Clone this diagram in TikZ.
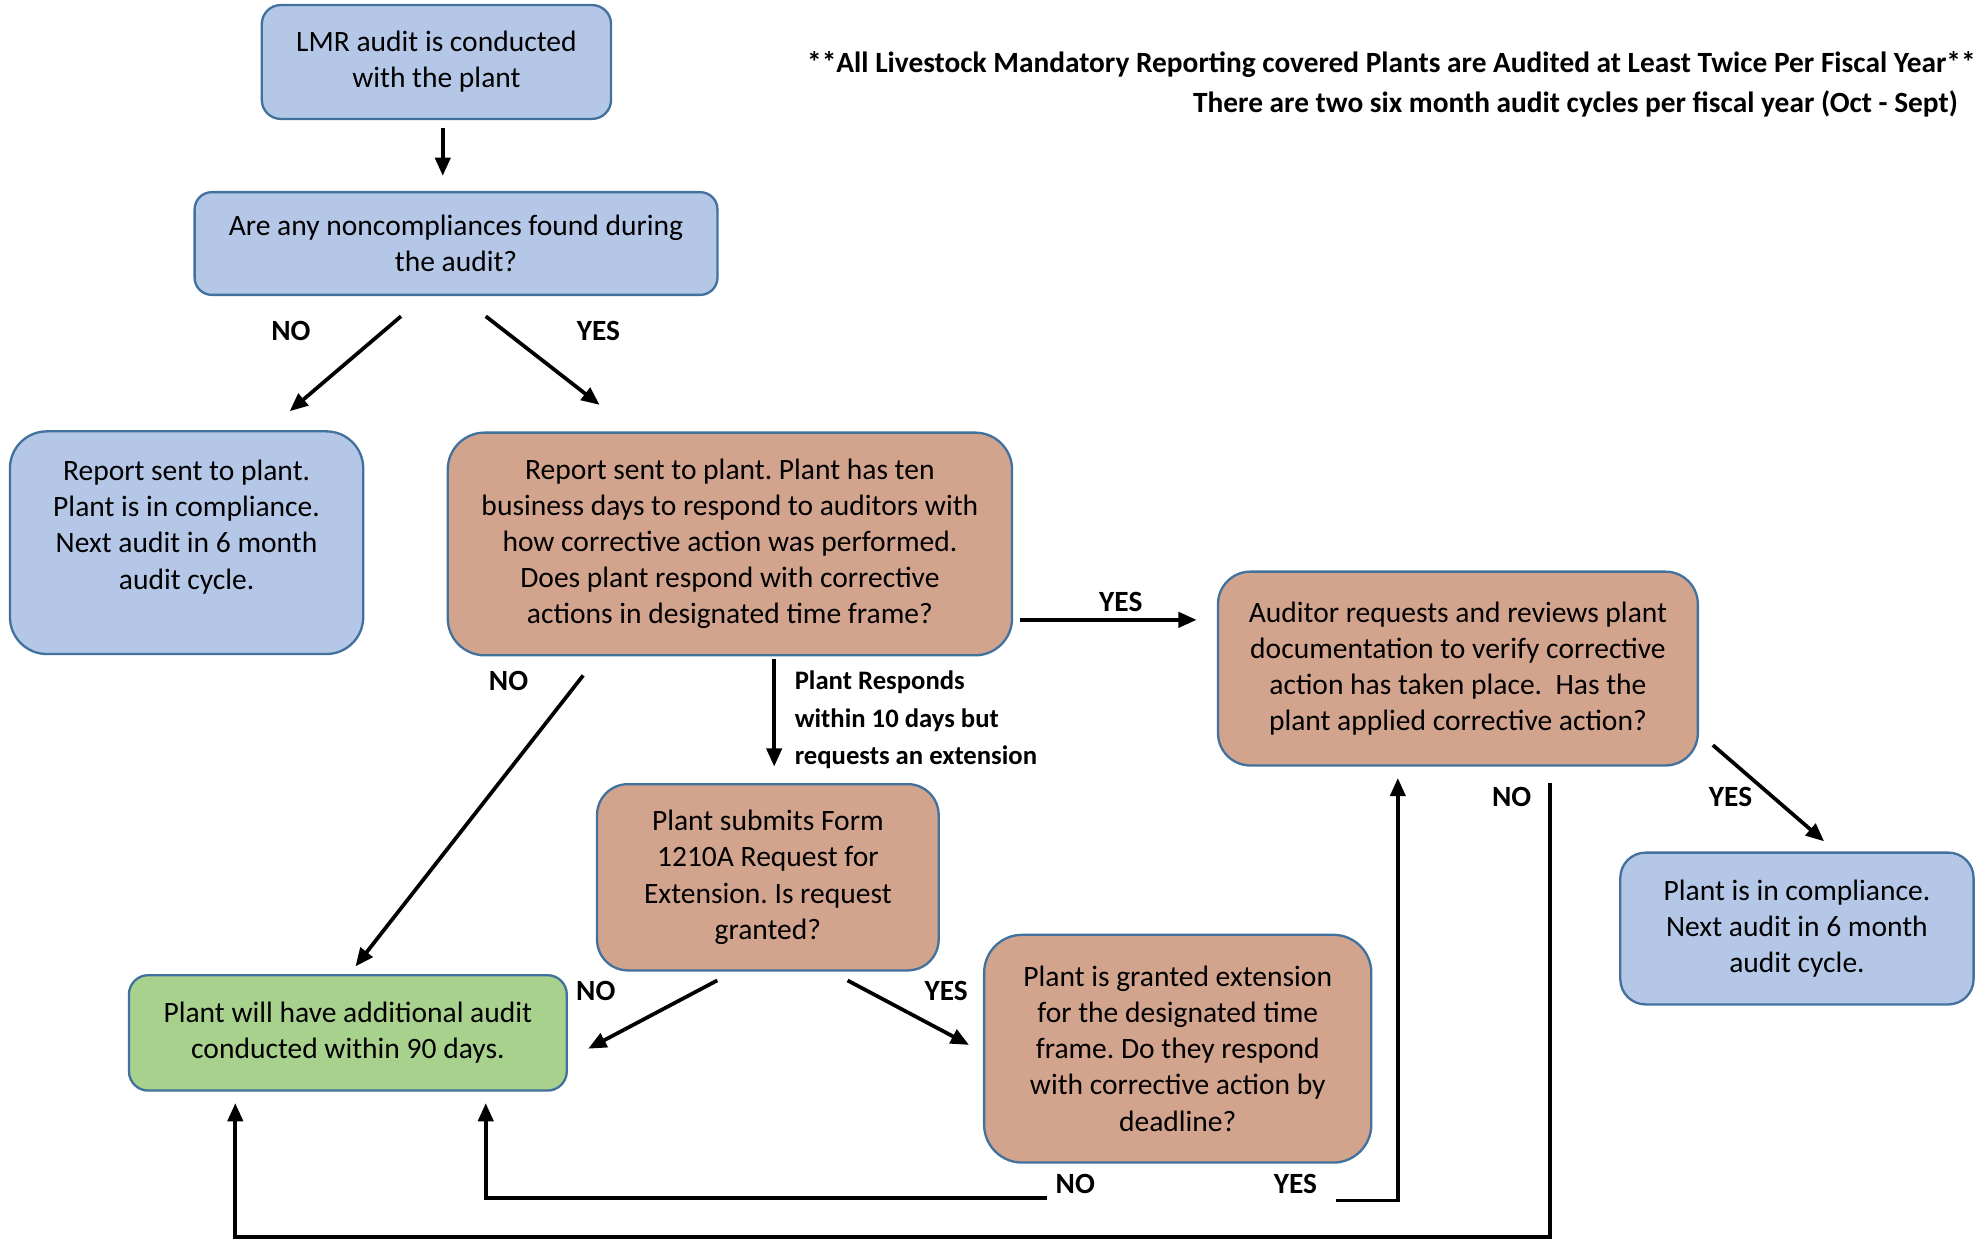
\documentclass[tikz,border=0pt]{standalone}
\usepackage{fontspec}
\setmainfont{Carlito}
\usetikzlibrary{arrows.meta,calc}
\definecolor{boxblue}{RGB}{180,199,231}
\definecolor{boxtan}{RGB}{210,163,141}
\definecolor{boxgreen}{RGB}{169,209,142}
\definecolor{boxline}{RGB}{65,113,156}
\frenchspacing
\begin{document}
\begin{tikzpicture}[x=0.025cm,y=-0.025cm,
    box/.style={draw=boxline,line width=1.3pt,rounded corners=#1,align=center,inner sep=0pt,
                font=\fontsize{16.6}{20.3}\selectfont},
    blu/.style={box=#1,fill=boxblue},
    tan/.style={box=#1,fill=boxtan},
    grn/.style={box=#1,fill=boxgreen},
    arr/.style={line width=2.1pt,-{Triangle[length=0.36cm,width=0.3cm]}},
    lbl/.style={font=\bfseries\fontsize{16.5}{18}\selectfont,inner sep=0pt}]
    \useasboundingbox (0,0) rectangle (1566,979);
    % header
    \node[lbl,anchor=east] (hd1) at (1562,51) {**All Livestock Mandatory Reporting covered Plants are Audited at Least Twice Per Fiscal Year**};
    \node[lbl,anchor=east] (hd2) at (1548,82) {There are two six month audit cycles per fiscal year (Oct - Sept)};
    % boxes
    \node[blu=0.375cm,minimum width=6.9cm,minimum height=2.25cm] (lmr) at (345,49) {LMR audit is conducted\\with the plant};
    \node[blu=0.34cm,minimum width=10.33cm,minimum height=2.03cm] (q1) at (360.5,192.5) {Are any noncompliances found during\\the audit?};
    \node[blu=0.73cm,minimum width=6.98cm,minimum height=4.4cm] (rpok) at (147.5,429) {Report sent to plant.\\Plant is in compliance.\\Next audit in 6 month\\audit cycle.\\\mbox{}};
    \node[tan=0.73cm,minimum width=11.15cm,minimum height=4.4cm] (rpten) at (577,430) {Report sent to plant. Plant has ten\\business days to respond to auditors with\\how corrective action was performed.\\Does plant respond with corrective\\actions in designated time frame?};
    \node[tan=0.64cm,minimum width=9.48cm,minimum height=3.83cm] (audreq) at (1152.5,528.5) {Auditor requests and reviews plant\\documentation to verify corrective\\action has taken place.\ \ Has the\\plant applied corrective action?};
    \node[tan=0.61cm,minimum width=6.75cm,minimum height=3.68cm] (form) at (607,693.5) {Plant submits Form\\1210A Request for\\Extension. Is request\\granted?};
    \node[grn=0.38cm,minimum width=8.65cm,minimum height=2.28cm] (extra) at (275,816.5) {Plant will have additional audit\\conducted within 90 days.};
    \node[tan=0.75cm,minimum width=7.65cm,minimum height=4.5cm] (grant) at (931,829) {Plant is granted extension\\for the designated time\\frame. Do they respond\\with corrective action by\\deadline?};
    \node[blu=0.5cm,minimum width=6.98cm,minimum height=3cm] (inok) at (1420.5,734) {Plant is in compliance.\\Next audit in 6 month\\audit cycle.};
    % arrows
    \draw[arr] ($(lmr.south)+(5,6)$) -- ($(q1.north)+(-10.5,-12)$);
    \draw[arr] ($(q1.south)+(-43.5,16)$) -- ($(rpok.north)+(81.5,-15)$);
    \draw[arr] ($(q1.south)+(23.5,16)$) -- ($(rpten.north)+(-103,-21)$);
    \draw[arr] ($(rpten.east)+(5,60)$) -- ($(audreq.west)+(-16,-38.5)$);
    \draw[arr] ($(rpten.south)+(-116,15)$) -- ($(extra.north)+(6,-6)$);
    \draw[arr] ($(rpten.south)+(35,2)$) -- ($(form.north)+(5,-13)$);
    \draw[arr] ($(form.south)+(-40,7)$) -- ($(extra.east)+(16,12.5)$);
    \draw[arr] ($(form.south)+(63,7)$) -- ($(grant.west)+(-11,-3)$);
    \draw[arr] ($(grant.south)+(-103,27)$) -| ($(extra.south)+(109,9)$);
    \draw[arr] ($(grant.south)+(125,29)$) -| ($(audreq.south)+(-47.5,9)$);
    \draw[arr] ($(audreq.south)+(73,13)$) |- ($(extra.south)+(-89,115)$) -- ($(extra.south)+(-89,9)$);
    \draw[arr] ($(audreq.south east)+(11,-17)$) -- ($(inok.north)+(21.5,-8)$);
    % labels
    \node[lbl] (lno1) at (230,262) {NO};
    \node[lbl] (lyes1) at (473,262) {YES};
    \node[lbl] (lyes2) at (886,476) {YES};
    \node[lbl] (lno2) at (402,538) {NO};
    \node[lbl,anchor=west,align=left,font=\bfseries\fontsize{15}{21.3}\selectfont] (lext) at (628,569) {Plant Responds\\within 10 days but\\requests an extension};
    \node[lbl] (lno3) at (471,783) {NO};
    \node[lbl] (lyes3) at (748,783) {YES};
    \node[lbl] (lno4) at (850,936) {NO};
    \node[lbl] (lyes4) at (1024,936) {YES};
    \node[lbl] (lno5) at (1195,630) {NO};
    \node[lbl] (lyes5) at (1368,630) {YES};
\end{tikzpicture}
\end{document}
